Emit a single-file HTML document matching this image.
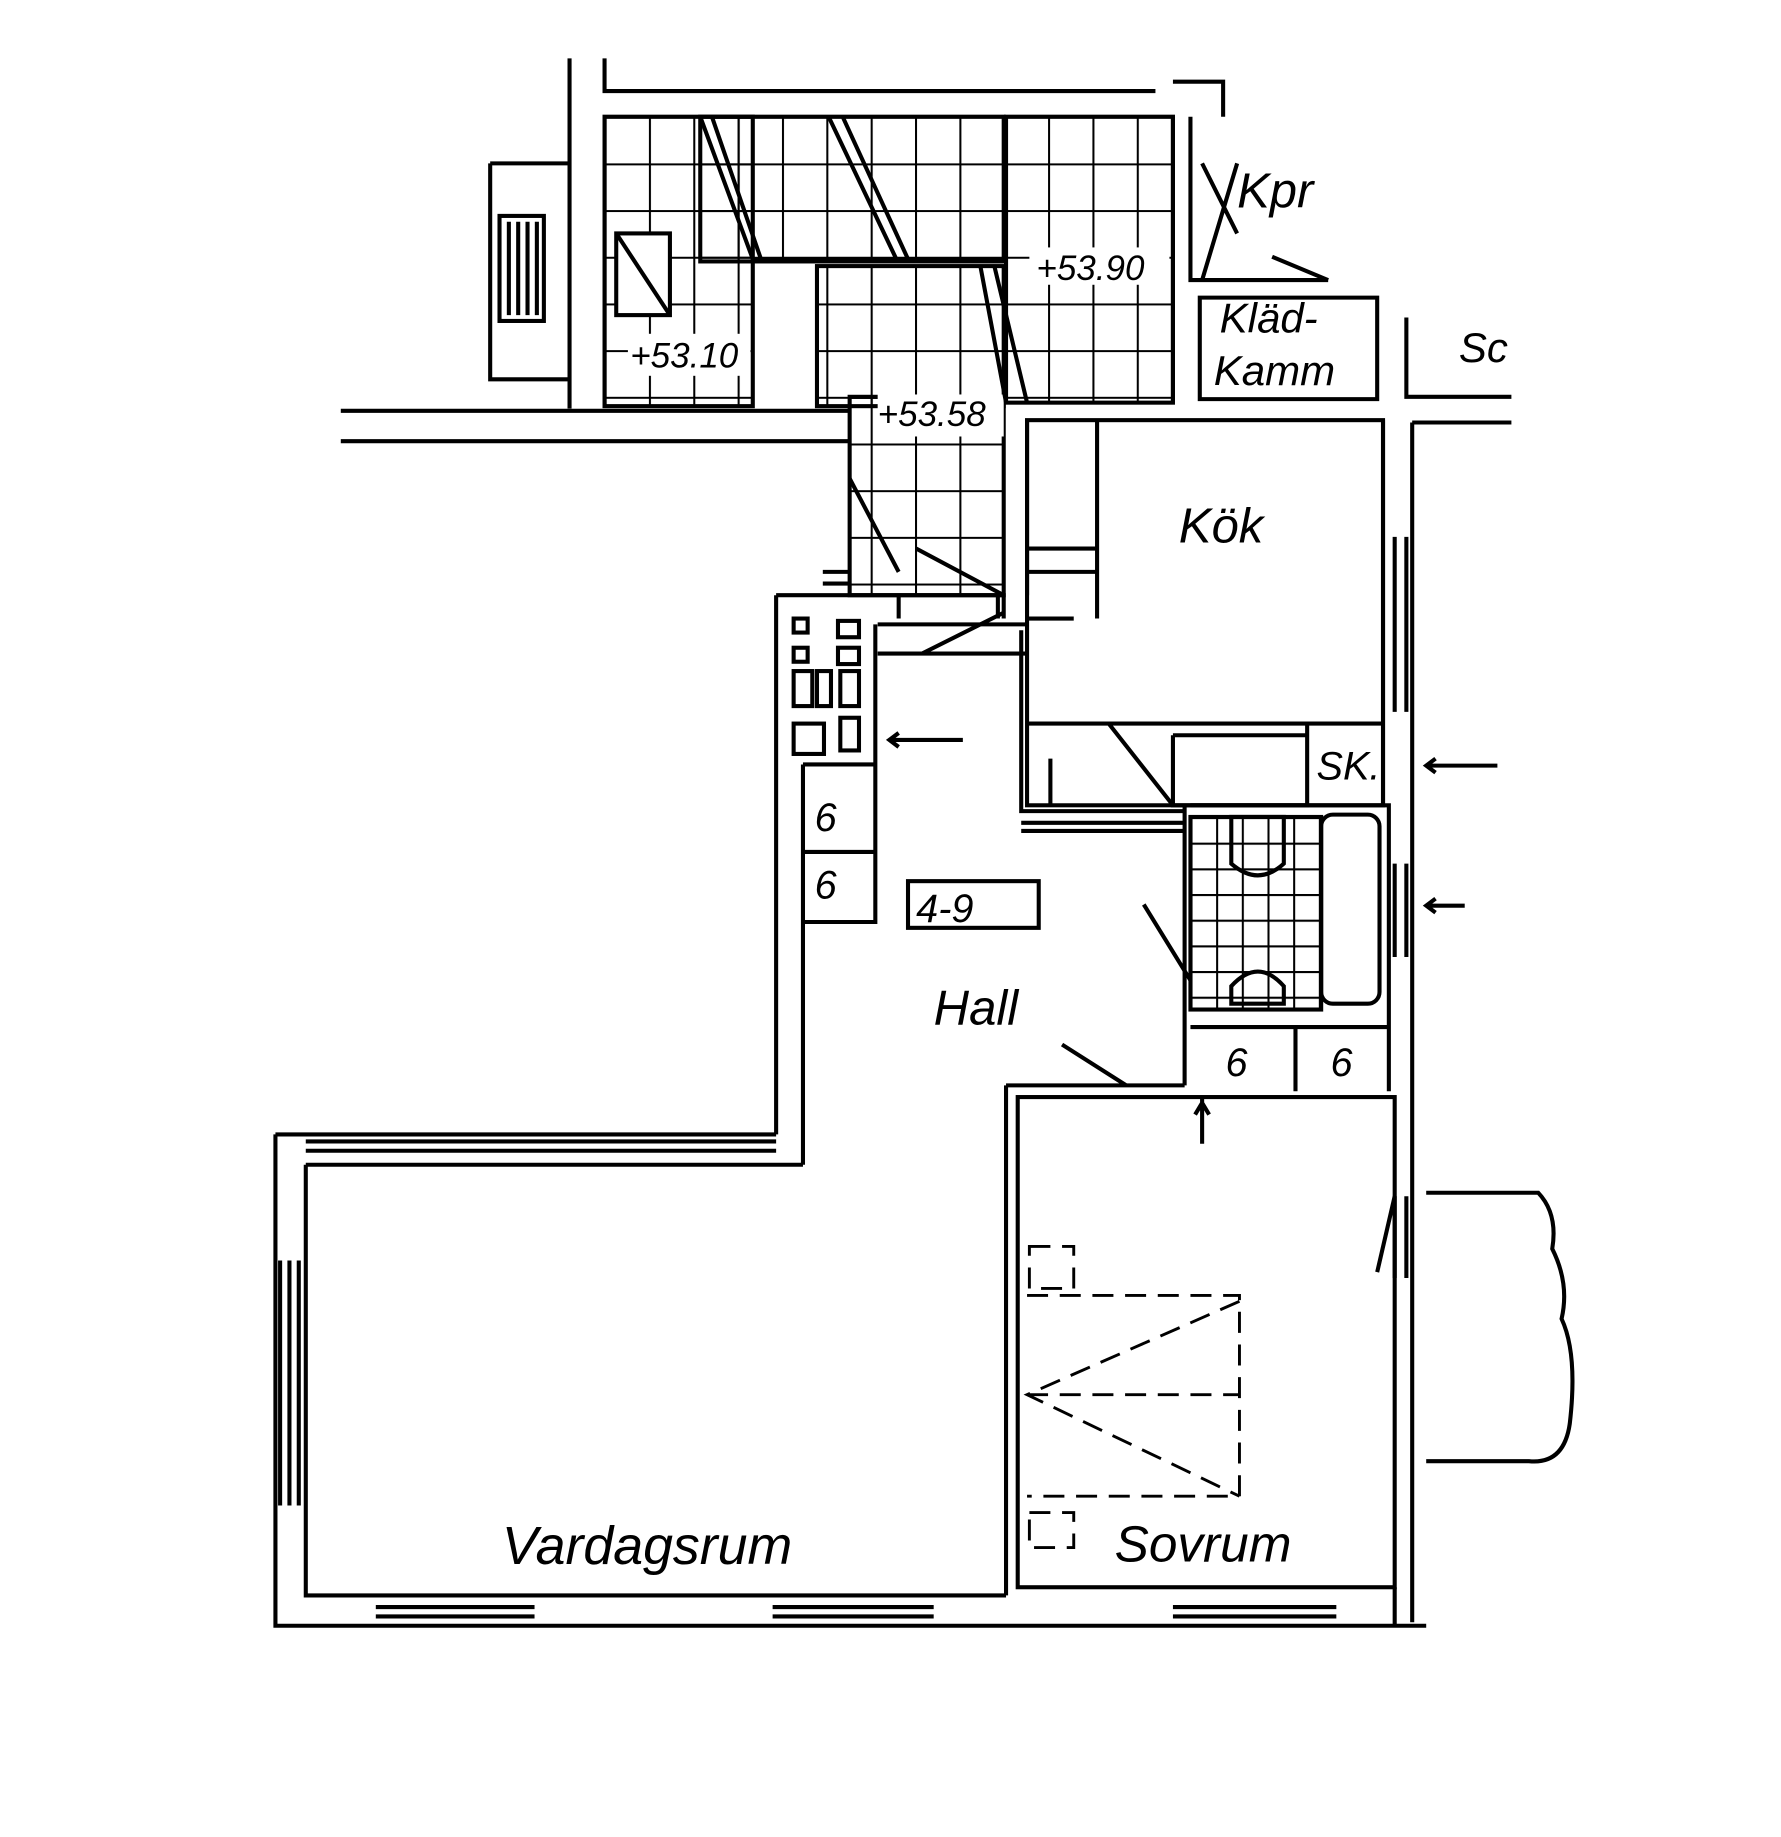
<!DOCTYPE html>
<html><head><style>
html,body{margin:0;padding:0;background:#fff;}
svg{display:block;}
text{font-family:"Liberation Sans",sans-serif;font-style:italic;fill:#000;}
</style></head><body>
<svg width="1781" height="1837" viewBox="0 0 1526 1574" preserveAspectRatio="none" xmlns="http://www.w3.org/2000/svg">
<defs>
<pattern id="g" width="38" height="40" patternUnits="userSpaceOnUse" x="518" y="100">
<path d="M0 0H38M0 0V40" stroke="#000" stroke-width="3.5" fill="none"/>
</pattern>
<pattern id="g2" width="22" height="22" patternUnits="userSpaceOnUse" x="1020" y="700">
<path d="M0 0H22M0 0V22" stroke="#000" stroke-width="3.5" fill="none"/>
</pattern>
</defs>
<rect width="1526" height="1574" fill="#fff"/>
<g fill="none" stroke="#000" stroke-width="3.5">
<rect x="518" y="100" width="127" height="248" fill="url(#g)"/>
<rect x="600" y="100" width="260" height="124" fill="url(#g)"/>
<rect x="700" y="228" width="160" height="120" fill="url(#g)"/>
<rect x="728" y="340" width="132" height="170" fill="url(#g)"/>
<rect x="862" y="100" width="143" height="245" fill="url(#g)"/>
<rect x="1020" y="700" width="112" height="165" fill="url(#g2)"/>
<rect x="528" y="200" width="46" height="70" fill="#fff"/>
<path d="M528 200L574 270"/>
<rect x="538" y="286" width="105" height="36" fill="#fff" stroke="none"/>
<rect x="752" y="338" width="108" height="36" fill="#fff" stroke="none"/>
<rect x="882" y="212" width="120" height="32" fill="#fff" stroke="none"/>
<path d="M600 100L645 222M610 100L652 222M710 100L768 222M722 100L778 222M840 228L862 345M852 228L880 345"/>
<path d="M645 222H862"/>
<path d="M518 50V78H990M1005 70H1048V100M488 50V350M292 352H728M292 378H728M420 140V325H488M420 140H488"/>
<rect x="428" y="185" width="38" height="90"/>
<path d="M436 190V270M444 190V270M452 190V270M460 190V270"/>
<path d="M1005 100V345M1020 100V240H1138M1028 255H1180V342H1028ZM1205 272V340H1295M1210 362H1295"/>
<path d="M1060 140L1030 240M1030 140L1060 200M1090 220L1138 240"/>
<rect x="880" y="360" width="305" height="330"/>
<path d="M880 360V510M940 360V530M880 470H940M880 490H940M880 530H920M880 620H1185M900 650V690M1005 630V690H1120V630H1005M1120 620V690M1185 360V690M950 620L1005 690"/>
<path d="M875 540V695H1015M875 705H1015M875 712H1015" />
<path d="M1210 362V1390M1195 460V610M1205 460V610M1195 740V820M1205 740V820M1195 1025V1095M1205 1025V1095"/>
<path d="M1283 656H1225M1230 650L1222 656L1230 662M1255 776H1225M1230 770L1222 776L1230 782M825 634H765M770 628L762 634L770 640"/>
<path d="M728 510H860V530M770 510V530M855 510V530M705 490H728M705 500H728M752 535H880M752 560H880" />
<path d="M728 410L770 490M785 470L860 510M790 560L860 525"/>
<path d="M665 510V972M688 655V998M665 510H728M688 655H750V790H688M688 730H750M750 535V790"/>
<rect x="680" y="530" width="12" height="12"/><rect x="718" y="532" width="18" height="14"/>
<rect x="680" y="555" width="12" height="12"/><rect x="718" y="555" width="18" height="14"/>
<rect x="680" y="575" width="16" height="30"/><rect x="700" y="575" width="12" height="30"/><rect x="720" y="575" width="16" height="30"/>
<rect x="680" y="620" width="26" height="26"/><rect x="720" y="615" width="16" height="28"/>
<rect x="778" y="755" width="112" height="40"/>
<path d="M1015 690V930M1020 690H1190V880H1020M1190 880V935M1022 880H1190M1110 880V935"/>
<rect x="1132" y="698" width="50" height="162" rx="10"/>
<path d="M1055 700H1100V740Q1078 760 1055 740ZM1055 860V845Q1078 820 1100 845V860Z"/>
<path d="M980 775L1020 840M1030 940V980M1024 955L1030 945L1036 955"/>
<path d="M862 930V1367M862 930H1015M910 895L965 930"/>
<rect x="872" y="940" width="323" height="420"/>
<path d="M1195 1025L1180 1090"/>
<g stroke-dasharray="18 10" stroke-width="2.5">
<rect x="882" y="1068" width="38" height="36"/>
<rect x="882" y="1296" width="38" height="30"/>
<path d="M880 1110H1062V1282H880M1062 1115L880 1195L1062 1282M880 1195H1062"/>
</g>
<path d="M1222 1022H1318Q1335 1040 1330 1070Q1345 1100 1338 1130Q1352 1160 1345 1220Q1340 1255 1310 1252H1222"/>
<path d="M236 972V1393H1222M262 998V1367H862M236 972H665M262 978H665M262 986H665M262 998H688"/>
<path d="M240 1080V1290M248 1080V1290M256 1080V1290"/>
<path d="M322 1377H458M322 1385H458M662 1377H800M662 1385H800M1005 1377H1145M1005 1385H1145M1195 1360V1393"/>
</g>
<g font-size="42">
<text x="1060" y="178">Kpr</text>
<text x="1045" y="285" font-size="36">Kläd-</text>
<text x="1040" y="330" font-size="36">Kamm</text>
<text x="1250" y="310" font-size="36">Sc</text>
<text x="1010" y="465">Kök</text>
<text x="800" y="878">Hall</text>
<text x="430" y="1340" font-size="46">Vardagsrum</text>
<text x="955" y="1338" font-size="44">Sovrum</text>
<text x="1128" y="668" font-size="34" font-style="normal">SK.</text>
<text x="785" y="790" font-size="34">4-9</text>
<text x="540" y="315" font-size="30">+53.10</text>
<text x="752" y="365" font-size="30">+53.58</text>
<text x="888" y="240" font-size="30">+53.90</text>
<text x="698" y="712" font-size="34">6</text>
<text x="698" y="770" font-size="34">6</text>
<text x="1050" y="922" font-size="34">6</text>
<text x="1140" y="922" font-size="34">6</text>
</g>
</svg>
</body></html>
